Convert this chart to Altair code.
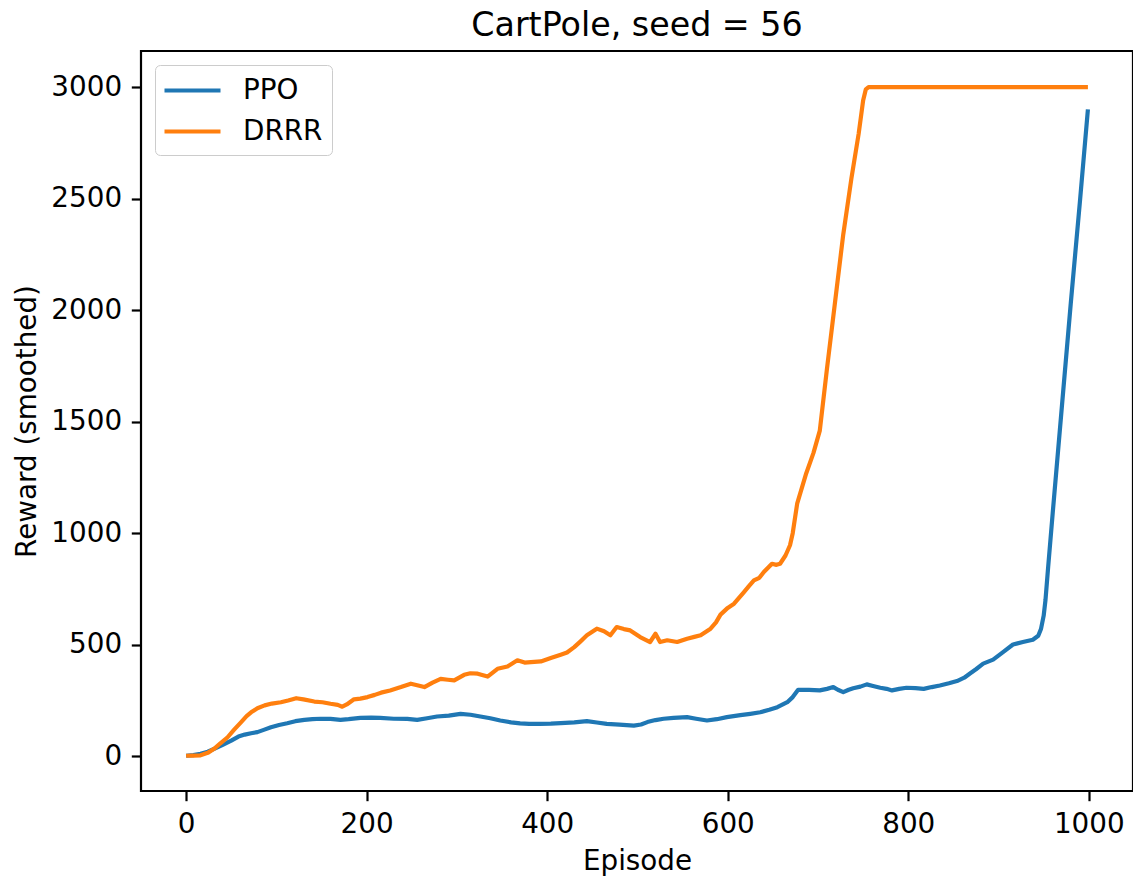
import altair as alt
import pandas as pd

# ---- data ----
ppo_episode = [0, 8, 16, 24, 31, 40, 50, 58, 65, 72, 79, 86, 94, 103, 112, 121, 131, 140, 149,
               160, 171, 180, 193, 205, 215, 230, 245, 256, 267, 278, 291, 304, 315, 326, 337,
               348, 360, 370, 380, 392, 404, 415, 430, 444, 455, 466, 480, 496, 504, 511, 520,
               529, 540, 555, 565, 577, 588, 599, 614, 625, 636, 646, 655, 666, 672, 678, 690,
               702, 710, 717, 722, 728, 734, 739, 747, 754, 761, 769, 776, 782, 790, 798, 808,
               817, 826, 835, 845, 854, 862, 868, 875, 883, 894, 905, 916, 927, 938, 944, 947,
               950, 952, 955, 960, 970, 980, 990, 999]
ppo_reward = [2, 5, 11, 20, 33, 50, 70, 88, 97, 103, 108, 118, 130, 140, 148, 157, 163, 166, 168,
              167, 163, 166, 172, 173, 172, 168, 167, 163, 170, 178, 182, 190, 186, 178, 170,
              160, 152, 147, 145, 145, 146, 148, 152, 157, 151, 145, 142, 137, 142, 153, 162,
              168, 172, 175, 168, 160, 166, 175, 184, 190, 197, 208, 220, 242, 265, 298, 297,
              295, 302, 310, 298, 287, 298, 305, 312, 322, 315, 307, 302, 295, 302, 307, 305,
              302, 310, 317, 327, 337, 352, 370, 390, 415, 433, 467, 501, 512, 522, 540, 570,
              630, 700, 850, 1090, 1560, 2030, 2480, 2900]

drrr_episode = [0, 8, 16, 24, 31, 38, 46, 53, 61, 67, 72, 79, 87, 95, 105, 113, 122, 130, 142,
                151, 160, 168, 173, 178, 186, 193, 201, 209, 216, 226, 238, 249, 256, 264, 273,
                282, 290, 297, 308, 315, 323, 334, 345, 356, 367, 375, 382, 393, 404, 415, 422,
                430, 437, 444, 455, 463, 470, 477, 485, 492, 503, 514, 520, 525, 533, 544, 555,
                563, 570, 581, 587, 592, 600, 607, 618, 623, 629, 635, 640, 649, 654, 658, 664,
                669, 672, 677, 687, 695, 702, 710, 719, 728, 737, 745, 750, 753, 756, 800, 900,
                999]
drrr_reward = [2, 3, 4, 15, 33, 58, 85, 118, 153, 180, 197, 215, 228, 236, 242, 250, 260, 255, 245,
               242, 235, 230, 222, 232, 255, 258, 265, 275, 285, 295, 310, 325, 318, 310, 330,
               347, 343, 340, 365, 372, 370, 357, 392, 402, 430, 420, 422, 425, 440, 455, 465,
               489, 515, 542, 572, 560, 542, 579, 570, 564, 534, 512, 549, 512, 520, 512, 527,
               535, 542, 572, 600, 635, 665, 684, 736, 760, 788, 800, 826, 863, 858, 863, 900,
               946, 1000, 1134, 1269, 1360, 1460, 1740, 2040, 2340, 2590, 2790, 2940, 2990, 3000,
               3000, 3000, 3000]

series_names = ["PPO", "DRRR"]
series_colors = ["#1f77b4", "#ff7f0e"]

df = pd.concat([
    pd.DataFrame({"Episode": ppo_episode, "Reward": ppo_reward, "Series": "PPO", "order": 0}),
    pd.DataFrame({"Episode": drrr_episode, "Reward": drrr_reward, "Series": "DRRR", "order": 1}),
], ignore_index=True)

FONT = "DejaVu Sans"

chart = alt.Chart(df).mark_line(strokeWidth=4.2, strokeCap="butt", strokeJoin="round").encode(
    x=alt.X("Episode:Q",
            scale=alt.Scale(domain=[-49.95, 1048.95], nice=False, zero=False),
            axis=alt.Axis(values=[0, 200, 400, 600, 800, 1000], format="d", title="Episode")),
    y=alt.Y("Reward:Q",
            scale=alt.Scale(domain=[-156, 3162], nice=False, zero=False),
            axis=alt.Axis(values=[0, 500, 1000, 1500, 2000, 2500, 3000], format="d",
                          title="Reward (smoothed)")),
    color=alt.Color("Series:N",
                    scale=alt.Scale(domain=series_names, range=series_colors),
                    legend=alt.Legend(title=None, orient="none", legendX=14, legendY=14,
                                      symbolType="M-2,0H2", symbolSize=784, symbolOffset=12,
                                      symbolStrokeWidth=4.2, labelFontSize=27.8,
                                      labelFont=FONT, labelColor="#000", labelOffset=34,
                                      rowPadding=10, padding=9, strokeColor="#cccccc",
                                      fillColor="rgba(255,255,255,0.8)", cornerRadius=5)),
    detail="order:O",
).properties(
    width=992,
    height=740,
    title=alt.TitleParams("CartPole, seed = 56", fontSize=33.3, font=FONT, fontWeight="normal",
                          color="#000", offset=8),
    autosize=alt.AutoSizeParams(type="none"),
    padding={"left": 133, "top": 43, "right": 0, "bottom": 92},
).configure_view(
    stroke="#000", strokeWidth=2.2
).configure_axis(
    domain=False, grid=False, tickColor="#000", tickWidth=2.2, tickSize=9.7,
    labelFontSize=27.8, labelFont=FONT, labelColor="#000", labelPadding=9.7,
    titleFontSize=27.8, titleFont=FONT, titleColor="#000", titleFontWeight="normal",
    titlePadding=9,
)

chart.save("out.html", embed_options={"renderer": "svg", "actions": False})
